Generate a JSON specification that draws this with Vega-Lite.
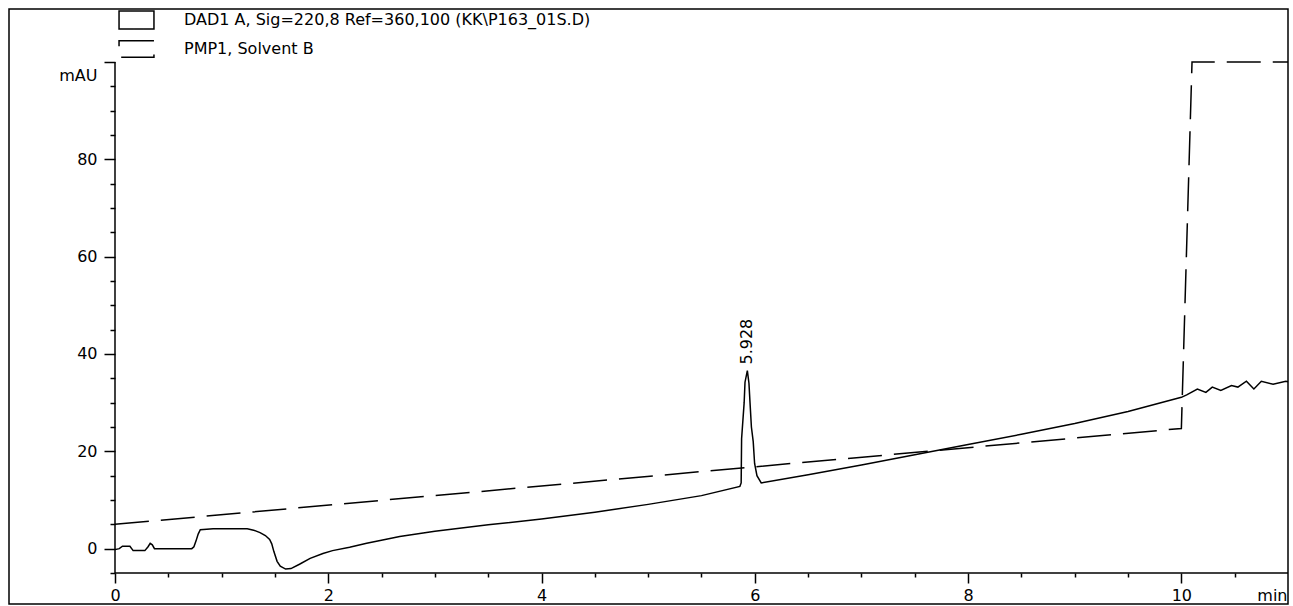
{
  "$schema": "https://vega.github.io/schema/vega-lite/v6.json",
  "width": 1279,
  "height": 595,
  "autosize": {"type": "none"},
  "padding": {"left": 9, "top": 9, "right": 5, "bottom": 2},
  "background": "white",
  "config": {
    "view": {"stroke": "black", "strokeWidth": 1.5},
    "font": "DejaVu Sans",
    "axis": {
      "grid": false,
      "domain": false,
      "tickColor": "black",
      "tickWidth": 1.5,
      "labelColor": "black",
      "labelFont": "DejaVu Sans",
      "labelFontSize": 16,
      "titleFont": "DejaVu Sans",
      "titleFontSize": 16,
      "titleFontWeight": "normal",
      "titleColor": "black",
      "labelOverlap": false,
      "labelFlush": false
    }
  },
  "datasets": {
    "dad1": [
      {"t": 0, "mAU": -0.2}, {"t": 0.04, "mAU": 0.0}, {"t": 0.07, "mAU": 0.5}, {"t": 0.14, "mAU": 0.5},
      {"t": 0.17, "mAU": -0.4}, {"t": 0.28, "mAU": -0.4}, {"t": 0.31, "mAU": 0.4}, {"t": 0.33, "mAU": 1.1},
      {"t": 0.35, "mAU": 0.8}, {"t": 0.37, "mAU": 0.0}, {"t": 0.72, "mAU": 0.0}, {"t": 0.74, "mAU": 0.4},
      {"t": 0.76, "mAU": 1.6}, {"t": 0.78, "mAU": 3.0}, {"t": 0.80, "mAU": 3.9}, {"t": 0.86, "mAU": 4.0},
      {"t": 0.92, "mAU": 4.1}, {"t": 1.24, "mAU": 4.1}, {"t": 1.30, "mAU": 3.8}, {"t": 1.36, "mAU": 3.3},
      {"t": 1.41, "mAU": 2.7}, {"t": 1.45, "mAU": 1.9}, {"t": 1.47, "mAU": 1.0}, {"t": 1.49, "mAU": -0.6},
      {"t": 1.52, "mAU": -2.6}, {"t": 1.55, "mAU": -3.6}, {"t": 1.60, "mAU": -4.2}, {"t": 1.65, "mAU": -4.1},
      {"t": 1.73, "mAU": -3.2}, {"t": 1.83, "mAU": -2.0}, {"t": 1.95, "mAU": -1.0}, {"t": 2.04, "mAU": -0.4},
      {"t": 2.2, "mAU": 0.3}, {"t": 2.36, "mAU": 1.1}, {"t": 2.51, "mAU": 1.8}, {"t": 2.67, "mAU": 2.5},
      {"t": 3.0, "mAU": 3.6}, {"t": 3.5, "mAU": 4.9}, {"t": 4.0, "mAU": 6.1}, {"t": 4.5, "mAU": 7.5},
      {"t": 5.0, "mAU": 9.1}, {"t": 5.5, "mAU": 10.9}, {"t": 5.86, "mAU": 12.8}, {"t": 5.872, "mAU": 13.5},
      {"t": 5.876, "mAU": 22.6}, {"t": 5.9, "mAU": 30.0}, {"t": 5.908, "mAU": 34.2}, {"t": 5.93, "mAU": 36.6},
      {"t": 5.945, "mAU": 34.0}, {"t": 5.955, "mAU": 30.0}, {"t": 5.968, "mAU": 25.0}, {"t": 5.985, "mAU": 22.0},
      {"t": 5.998, "mAU": 17.5}, {"t": 6.02, "mAU": 15.0}, {"t": 6.06, "mAU": 13.5}, {"t": 6.5, "mAU": 15.2},
      {"t": 7.0, "mAU": 17.2}, {"t": 7.5, "mAU": 19.3}, {"t": 8.0, "mAU": 21.4}, {"t": 8.5, "mAU": 23.5},
      {"t": 9.0, "mAU": 25.7}, {"t": 9.5, "mAU": 28.2}, {"t": 10.0, "mAU": 31.1}, {"t": 10.05, "mAU": 31.6},
      {"t": 10.15, "mAU": 32.8}, {"t": 10.23, "mAU": 32.1}, {"t": 10.29, "mAU": 33.2}, {"t": 10.37, "mAU": 32.5},
      {"t": 10.47, "mAU": 33.5}, {"t": 10.53, "mAU": 33.2}, {"t": 10.61, "mAU": 34.4}, {"t": 10.68, "mAU": 32.8},
      {"t": 10.75, "mAU": 34.4}, {"t": 10.86, "mAU": 33.8}, {"t": 10.98, "mAU": 34.4}, {"t": 11.0, "mAU": 34.3}
    ],
    "pmp1": [
      {"t": 0, "mAU": 5.0}, {"t": 10.0, "mAU": 24.7}, {"t": 10.1, "mAU": 100}, {"t": 11.0, "mAU": 100}
    ],
    "peaks": [
      {"t": 5.93, "mAU": 36.6, "label": "5.928"}
    ],
    "axisLines": [
      {"x0": 0, "x1": 11, "y0": -5, "y1": -5},
      {"x0": 0, "x1": 0, "y0": -5, "y1": 100}
    ]
  },
  "layer": [
    {
      "data": {"name": "dad1"},
      "mark": {"type": "line", "strokeWidth": 1.5, "interpolate": "linear"},
      "encoding": {
        "x": {
          "field": "t", "type": "quantitative",
          "scale": {"domain": [-0.994, 11], "nice": false, "zero": false},
          "axis": {
            "orient": "bottom", "offset": -31, "values": [0, 2, 4, 6, 8, 10],
            "tickSize": 10, "labelPadding": 4,
            "title": "min", "titleX": 1278, "titleY": 14, "titleAlign": "right", "titleBaseline": "top"
          }
        },
        "y": {
          "field": "mAU", "type": "quantitative",
          "scale": {"domain": [-11.37, 110.89], "nice": false, "zero": false},
          "axis": {
            "orient": "left", "offset": -106, "values": [0, 20, 40, 60, 80, 100],
            "tickSize": 11, "labelPadding": 7,
            "labelExpr": "datum.value == 100 ? '' : datum.label",
            "title": "mAU", "titleAngle": 0, "titleX": -18, "titleY": 66,
            "titleAlign": "right", "titleBaseline": "middle"
          }
        },
        "color": {
          "datum": "DAD1 A, Sig=220,8 Ref=360,100 (KK\\P163_01S.D)",
          "scale": {
            "domain": ["DAD1 A, Sig=220,8 Ref=360,100 (KK\\P163_01S.D)", "PMP1, Solvent B"],
            "range": ["black", "black"]
          },
          "legend": {
            "orient": "none", "legendX": 117.5, "legendY": 1, "title": null, "padding": 0,
            "symbolSize": 324, "symbolType": "M-1.94,-1H1.94V1H-1.94Z",
            "symbolFillColor": "transparent", "symbolStrokeColor": "black", "symbolStrokeWidth": 1.5,
            "labelOffset": 37.5, "rowPadding": 5,
            "labelFont": "DejaVu Sans", "labelFontSize": 16, "labelColor": "black", "labelLimit": 0,
            "labelBaseline": "middle",
            "encode": {
              "symbols": {
                "update": {
                  "shape": {"signal": "datum.value === 'PMP1, Solvent B' ? 'M-1.94,-0.3V-0.92H1.94M-1.7,0.92H1.94V0.6' : 'M-1.94,-1H1.94V1H-1.94Z'"},
                  "strokeDash": {"value": [1, 0]},
                  "fill": {"value": "transparent"},
                  "stroke": {"value": "black"}
                }
              }
            }
          }
        }
      }
    },
    {
      "data": {"name": "pmp1"},
      "mark": {"type": "line", "strokeWidth": 1.5, "strokeDash": [34, 12]},
      "encoding": {
        "x": {
          "field": "t", "type": "quantitative",
          "scale": {"domain": [-0.994, 11], "nice": false, "zero": false},
          "axis": {
            "orient": "bottom", "offset": -31,
            "values": [0.5, 1, 1.5, 2.5, 3, 3.5, 4.5, 5, 5.5, 6.5, 7, 7.5, 8.5, 9, 9.5, 10.5],
            "tickSize": 4, "labels": false, "title": null
          }
        },
        "y": {
          "field": "mAU", "type": "quantitative",
          "scale": {"domain": [-11.37, 110.89], "nice": false, "zero": false},
          "axis": {
            "orient": "left", "offset": -106,
            "values": [-5, 5, 10, 15, 25, 30, 35, 45, 50, 55, 65, 70, 75, 85, 90, 95],
            "tickSize": 5, "labels": false, "title": null
          }
        },
        "color": {"datum": "PMP1, Solvent B"}
      }
    },
    {
      "data": {"name": "axisLines"},
      "mark": {"type": "rule", "color": "black", "strokeWidth": 1.5},
      "encoding": {
        "x": {"field": "x0", "type": "quantitative", "scale": {"domain": [-0.994, 11], "nice": false, "zero": false}, "axis": null},
        "x2": {"field": "x1"},
        "y": {"field": "y0", "type": "quantitative", "scale": {"domain": [-11.37, 110.89], "nice": false, "zero": false}, "axis": null},
        "y2": {"field": "y1"}
      }
    },
    {
      "data": {"name": "peaks"},
      "mark": {"type": "text", "angle": 270, "align": "left", "baseline": "middle", "dx": 6, "font": "DejaVu Sans", "fontSize": 16, "color": "black"},
      "encoding": {
        "x": {"field": "t", "type": "quantitative", "scale": {"domain": [-0.994, 11], "nice": false, "zero": false}, "axis": null},
        "y": {"field": "mAU", "type": "quantitative", "scale": {"domain": [-11.37, 110.89], "nice": false, "zero": false}, "axis": null},
        "text": {"field": "label"}
      }
    }
  ],
  "resolve": {"axis": {"x": "independent", "y": "independent"}}
}
